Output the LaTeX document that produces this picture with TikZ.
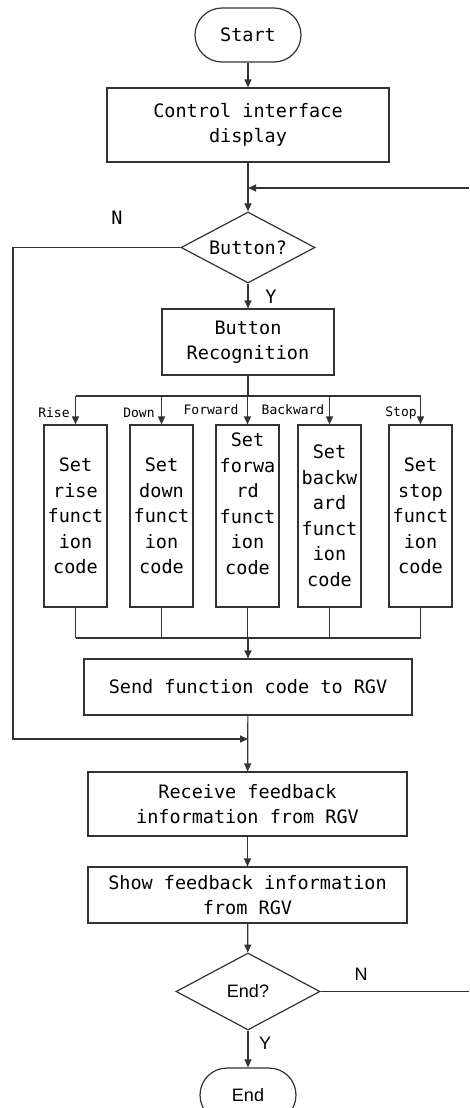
\documentclass[tikz,border=0pt]{standalone}
\usepackage{fontspec}
\setmainfont{Liberation Sans}
\setmonofont{DejaVu Sans Mono}
\usetikzlibrary{shapes.geometric,arrows.meta}
\begin{document}
\begin{tikzpicture}[x=1pt,y=-1pt,
  ln/.style={draw=black!80,line width=1.2pt},
  arr/.style={ln,-{Triangle[length=8pt,width=7pt]}},
  mono/.style={font=\ttfamily\fontsize{18.5}{25.5}\selectfont},
  boxnode/.style={ln,rectangle,inner sep=0pt,align=center,mono},
  colbox/.style={boxnode,minimum width=63pt,minimum height=182pt},
  termnode/.style={ln,rectangle,rounded corners=27pt,minimum height=54pt,inner sep=0pt},
  decnode/.style={ln,diamond,inner sep=0pt,aspect=1.9},
  small/.style={font=\ttfamily\fontsize{13}{15}\selectfont,inner sep=0pt},
  yn/.style={font=\ttfamily\fontsize{18.5}{20}\selectfont,inner sep=0pt}]
\useasboundingbox (0,0) rectangle (469,1108);

% main column
\node[termnode,mono,minimum width=106pt] (start) at (248,35) {Start};
\node[boxnode,minimum width=282pt,minimum height=74pt] (ctrl) at (248,125) {Control interface\\display};
\node[decnode,mono,minimum width=134pt,minimum height=71pt] (btn) at (248,247.5) {Button?};
\node[boxnode,minimum width=172pt,minimum height=66pt] (rec) at (248,342) {Button\\Recognition};

% function boxes
\node[colbox] (rise) at (75.5,516) {Set\\rise\\funct\\ion\\code};
\node[colbox] (down) at (161.5,516) {Set\\down\\funct\\ion\\code};
\node[colbox] (fwd) at (247.5,516) {};
\node[boxnode,draw=none] (fwdtxt) at (247.5,504) {Set\\forwa\\rd\\funct\\ion\\code};
\node[colbox] (bwd) at (329.5,516) {Set\\backw\\ard\\funct\\ion\\code};
\node[colbox] (stop) at (420.5,516) {Set\\stop\\funct\\ion\\code};

\node[boxnode,minimum width=328pt,minimum height=56pt] (send) at (248,687) {Send function code to RGV};
\node[boxnode,minimum width=319pt,minimum height=64pt] (recv) at (247.5,804) {Receive feedback\\information from RGV};
\node[boxnode,minimum width=319pt,minimum height=56pt] (show) at (247.5,895) {Show feedback information\\from RGV};
\node[decnode,font=\fontsize{18}{20}\selectfont,minimum width=144pt,minimum height=77pt] (endd) at (248,991.5) {End?};
\node[termnode,font=\fontsize{18}{20}\selectfont,minimum width=96pt] (endt) at (248,1095) {End};

% labels
\node[small] (lrise) at (54,413) {Rise};
\node[small] (ldown) at (139,413) {Down};
\node[small] (lfwd) at (211,410) {Forward};
\node[small] (lbwd) at (293,410) {Backward};
\node[small] (lstop) at (401,413) {Stop};
\node[yn] (n1) at (117,218) {N};
\node[yn] (y1) at (271,297) {Y};
\node[font=\fontsize{18}{20}\selectfont,inner sep=0pt] (n2) at (361,974) {N};
\node[font=\fontsize{18}{20}\selectfont,inner sep=0pt] (y2) at (265,1043) {Y};

% coordinates
\coordinate (j1) at (248,188);
\coordinate (r1) at (469,188);
\coordinate (r2) at (469,991.5);
\coordinate (b1) at (248,396);
\coordinate (b2) at (248,638);
\coordinate (j2) at (248,739);
\coordinate (lft) at (13,247.5);

% connectors
\draw[arr] (start) -- (ctrl);
\draw[arr] (ctrl) -- (btn);
\draw[arr] (r1) -- (j1);
\draw[arr] (btn) -- (rec);
\draw[ln,line width=2pt] (rec.south) -- (b1);
\draw[ln] (rise.north |- b1) -- (stop.north |- b1);
\foreach \n in {rise,down,fwd,bwd,stop}{
  \draw[arr] (\n.north |- b1) -- (\n.north);
  \draw[ln] (\n.south) -- (\n.south |- b2);
}
\draw[ln] (rise.south |- b2) -- (stop.south |- b2);
\draw[arr] (b2) -- (send);
\draw[arr] (send) -- (recv);
\draw[arr] (btn.west) -- (lft) -- (lft |- j2) -- (j2);
\draw[arr] (recv) -- (show);
\draw[arr] (show) -- (endd);
\draw[arr] (endd) -- (endt);
\draw[ln] (endd.east) -- (r2);
\end{tikzpicture}
\end{document}
